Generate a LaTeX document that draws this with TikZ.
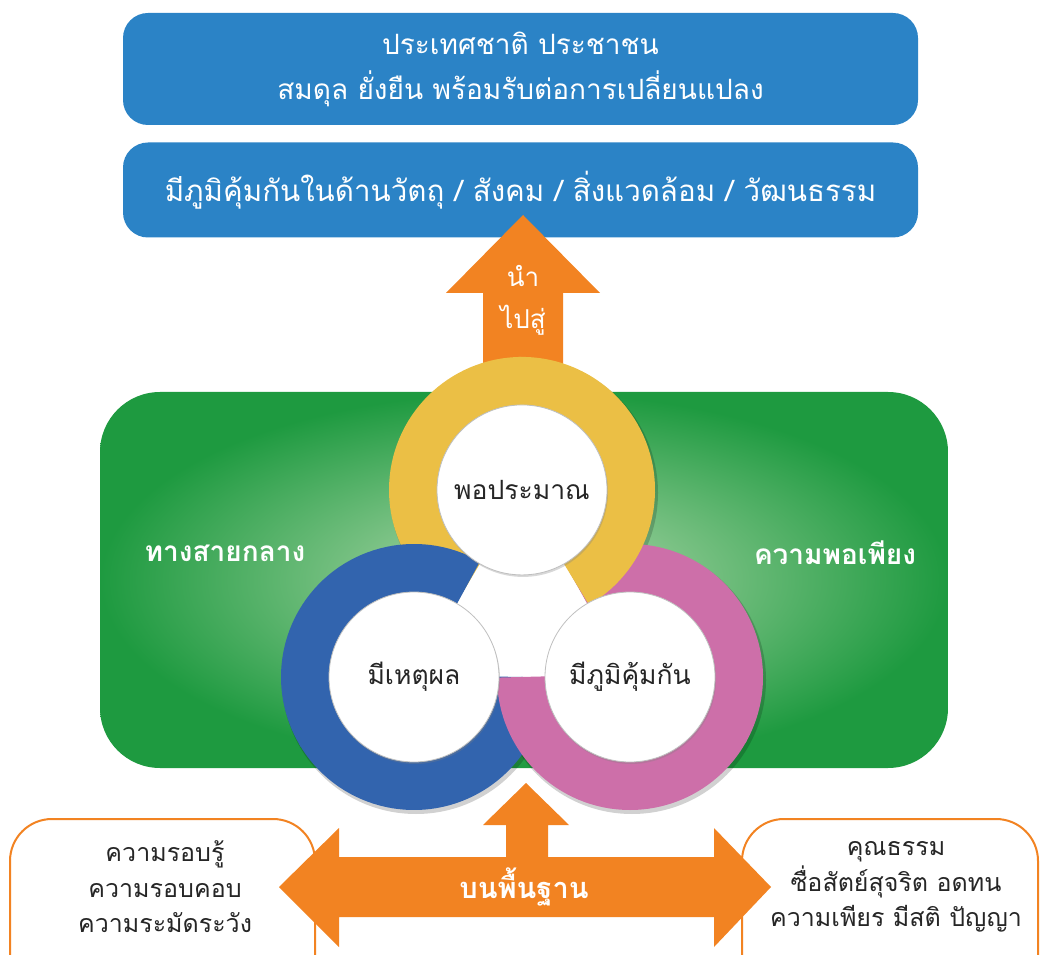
\documentclass[tikz,border=0pt]{standalone}
\usepackage{fontspec}
\setmainfont{Loma}[Script=Thai]
\usetikzlibrary{shadows}

\definecolor{boxblue}{RGB}{43,131,198}
\definecolor{arroworange}{RGB}{242,131,34}
\definecolor{ringyellow}{RGB}{235,191,69}
\definecolor{ringblue}{RGB}{50,100,174}
\definecolor{ringpink}{RGB}{205,111,169}
\definecolor{greendark}{RGB}{30,154,64}
\definecolor{greenlight}{RGB}{182,219,176}

\begin{document}
\begin{tikzpicture}[x=1pt, y=1pt,
        topbox/.style={fill=boxblue, rounded corners=25pt, text=white, align=center, inner sep=0pt},
        ring/.style={line width=48pt},
        hole/.style={circle, fill=white, draw=black!25, line width=0.8pt, minimum size=170pt, inner sep=0pt,
                font=\fontsize{26.5}{30}\selectfont, text=black!85,
                drop shadow={opacity=0.3, shadow xshift=1pt, shadow yshift=-2pt}},
        sidebox/.style={draw=arroworange, line width=2pt, fill=white, rounded corners=42pt},
        sidetext/.style={align=center, font=\fontsize{25}{35.5}\selectfont, text=black!85},
        greentext/.style={text=white, font=\bfseries\fontsize{28}{32}\selectfont}]
        \clip (0, 0) rectangle (1041, 954);
        \node[topbox, minimum width=795pt, minimum height=112pt, font=\fontsize{28}{45}\selectfont] (nation) at (520.5, 885)
                {ประเทศชาติ ประชาชน\\สมดุล ยั่งยืน พร้อมรับต่อการเปลี่ยนแปลง};
        \node[topbox, minimum width=795pt, minimum height=95pt, font=\fontsize{29.5}{32}\selectfont] (immune) at (520.5, 764)
                {มีภูมิคุ้มกันในด้านวัตถุ / สังคม / สิ่งแวดล้อม / วัฒนธรรม};
        \fill[arroworange] (446, 661) -- (523, 739) -- (600, 661) -- (563, 661) -- (563, 574) -- (483, 574) -- (483, 661) -- cycle;
        \node[text=white, align=center, font=\fontsize{26}{42}\selectfont] (leads) at (523, 654) {นำ\\ไปสู่};
        \shade[inner color=greenlight, outer color=greendark, rounded corners=60pt] (100, 186) rectangle (948, 562);
        \node[greentext] (middle) at (225, 401) {ทางสายกลาง};
        \node[greentext] (enough) at (835, 401) {ความพอเพียง};
        \coordinate (yc) at (522, 464.06);
        \coordinate (bc) at (414, 277);
        \coordinate (pc) at (630, 277);
        \fill[black, opacity=0.18] ([shift={(2, -3)}]yc) circle [radius=134];
        \fill[black, opacity=0.18] ([shift={(2, -3)}]bc) circle [radius=134];
        \fill[black, opacity=0.18] ([shift={(2, -3)}]pc) circle [radius=134];
        \fill[white] (yc) -- (bc) -- (pc) -- cycle;
        \draw[ring, ringyellow] (yc) ++(90:109) arc [start angle=90, end angle=240, radius=109];
        \draw[ring, ringblue] (bc) ++(210:109) arc [start angle=210, end angle=360, radius=109];
        \draw[ring, ringpink] (pc) ++(330:109) arc [start angle=330, end angle=480, radius=109];
        \draw[ring, ringyellow] (yc) ++(-60:109) arc [start angle=-60, end angle=92, radius=109];
        \draw[ring, ringblue] (bc) ++(60:109) arc [start angle=60, end angle=212, radius=109];
        \draw[ring, ringpink] (pc) ++(180:109) arc [start angle=180, end angle=332, radius=109];
        \node[hole] (modest) at (yc) {พอประมาณ};
        \node[hole] (reason) at (bc) {มีเหตุผล};
        \node[hole] (immunity) at (pc) {มีภูมิคุ้มกัน};
        \node[sidebox, minimum width=305pt, minimum height=200pt] (knowledge) at (162.5, 35) {};
        \node[sidebox, minimum width=296pt, minimum height=200pt] (virtue) at (890, 35) {};
        \fill[arroworange] (279, 67) -- (339, 126) -- (339, 97) -- (506, 97) -- (506, 129) -- (483, 129) -- (526, 171)
                -- (569, 129) -- (548, 129) -- (548, 97) -- (714, 97) -- (714, 126) -- (771, 67) -- (714, 7)
                -- (714, 37) -- (339, 37) -- (339, 7) -- cycle;
        \node[text=white, font=\bfseries\fontsize{29}{34}\selectfont] (basis) at (524, 67) {บนพื้นฐาน};
        \node[sidetext] (knowledgetext) at (165, 67) {ความรอบรู้\\ความรอบคอบ\\ความระมัดระวัง};
        \node[sidetext] (virtuetext) at (896, 67) {คุณธรรม\\ซื่อสัตย์สุจริต อดทน\\ความเพียร มีสติ ปัญญา};
\end{tikzpicture}
\end{document}
